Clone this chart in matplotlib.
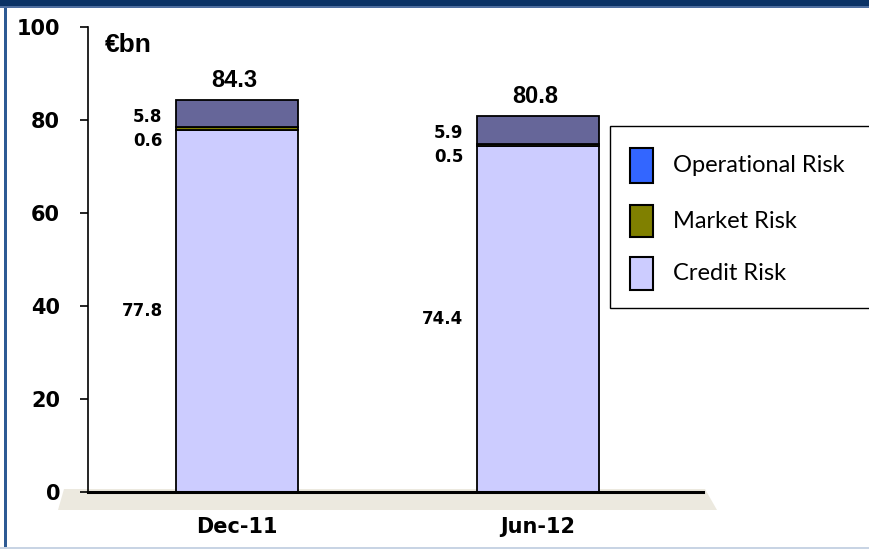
import matplotlib
matplotlib.use("Agg")
import matplotlib.pyplot as plt
from matplotlib.patches import Rectangle, Polygon
import numpy as np

periods = ["Dec-11", "Jun-12"]
credit = [77.8, 74.4]
market = [0.6, 0.5]
operational = [5.8, 5.9]
totals = ["84.3", "80.8"]
legend_labels = ["Operational Risk", "Market Risk", "Credit Risk"]

c_credit = "#CCCCFF"
c_market = "#808000"
c_oper = "#666699"
c_oper_legend = "#3366FF"

fig = plt.figure(figsize=(8.69, 5.49), dpi=100)
W, H = 869.0, 549.0

# page decoration: navy top band, left border, bottom border
fig.patches.append(Rectangle((0, 1 - 6 / H), 1, 6 / H, transform=fig.transFigure,
                             facecolor="#0B3366", edgecolor="none", zorder=0))
fig.patches.append(Rectangle((0, 1 - 8 / H), 1, 2 / H, transform=fig.transFigure,
                             facecolor="#4F6FA0", edgecolor="none", zorder=0))
fig.patches.append(Rectangle((4 / W, 0), 3 / W, 1 - 8 / H, transform=fig.transFigure,
                             facecolor="#2D5A94", edgecolor="none", zorder=0))
fig.patches.append(Rectangle((0, 0), 1, 2 / H, transform=fig.transFigure,
                             facecolor="#C8D4E4", edgecolor="none", zorder=0))

ax = fig.add_axes([88 / W, (H - 492) / H, 615 / W, 465 / H])
ax.patch.set_alpha(0)

# floor under the baseline
floor = Polygon([(-24 / 615, 3 / 465), (617 / 615, 3 / 465),
                 (629 / 615, -18 / 465), (-30 / 615, -18 / 465)],
                closed=True, transform=ax.transAxes, clip_on=False,
                facecolor="#ECE9DF", edgecolor="none", zorder=0)
ax.add_patch(floor)

x = np.arange(len(periods))
bw = 0.405
credit = np.array(credit)
market = np.array(market)
operational = np.array(operational)
ekw = dict(edgecolor="black", linewidth=1.3, zorder=3)
ax.bar(x, credit, bw, color=c_credit, **ekw)
ax.bar(x, market, bw, bottom=credit, color=c_market, **ekw)
ax.bar(x, operational, bw, bottom=credit + market, color=c_oper, **ekw)

top = credit + market + operational
small = dict(family="DejaVu Sans", fontweight="bold", fontsize=12, ha="right", va="center")
for i in range(len(periods)):
    lx = x[i] - bw / 2 - 0.045
    ax.text(lx, credit[i] + market[i] + 2.3, f"{operational[i]:.1f}", **small)
    ax.text(lx, credit[i] - 2.3, f"{market[i]:.1f}", **small)
    ax.text(lx, credit[i] / 2, f"{credit[i]:.1f}", **small)
    ax.annotate(totals[i], (x[i], top[i]), xytext=(-2, 6), textcoords="offset points",
                ha="center", va="bottom", family="Liberation Sans", fontweight="bold",
                fontsize=17)

ax.text(0.028, 0.988, "€bn", transform=ax.transAxes, ha="left", va="top",
        family="Liberation Sans", fontweight="bold", fontsize=19)

ax.set_xlim(-0.495, 1.548)
ax.set_ylim(0, 100)
ax.set_yticks(np.arange(0, 101, 20))
ax.set_xticks(x)
ax.set_xticklabels(periods, family="DejaVu Sans", fontweight="bold", fontsize=15)
for lbl in ax.get_yticklabels():
    lbl.set_family("DejaVu Sans")
    lbl.set_fontweight("bold")
    lbl.set_fontsize(15)
ax.tick_params(axis="y", direction="out", length=6, width=1.2, pad=14)
ax.tick_params(axis="x", length=0, pad=18)
ax.spines["top"].set_visible(False)
ax.spines["right"].set_visible(False)
ax.spines["left"].set_linewidth(1.2)
ax.spines["bottom"].set_linewidth(2.2)
ax.spines["bottom"].set_zorder(4)

# legend box (runs off the right edge), drawn by hand
fig.patches.append(Rectangle((610 / W, (H - 308) / H), 0.4, 182 / H,
                             transform=fig.transFigure, facecolor="white",
                             edgecolor="black", linewidth=1.0, zorder=5))
leg_colors = [c_oper_legend, c_market, c_credit]
leg_boxes = [(148, 183), (205, 237), (257, 290)]
for (y0, y1), col, lab in zip(leg_boxes, leg_colors, legend_labels):
    fig.patches.append(Rectangle((630 / W, (H - y1) / H), 23 / W, (y1 - y0) / H,
                                 transform=fig.transFigure, facecolor=col,
                                 edgecolor="black", linewidth=1.5, zorder=6))
    fig.text(673 / W, (H - (y0 + y1) / 2) / H, lab, ha="left", va="center",
             family="Lato", fontsize=17, zorder=7)

fig.savefig("out.png", dpi=100)
